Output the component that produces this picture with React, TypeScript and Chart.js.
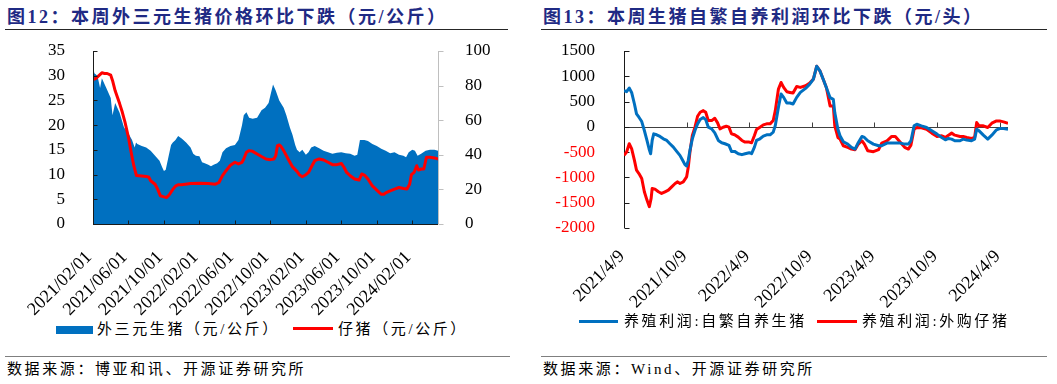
import React, { useEffect, useRef } from 'react';
import { Chart, registerables } from 'chart.js';

Chart.register(...registerables);

const SERIF = "'Liberation Serif', Tinos, 'Times New Roman', Times, 'DejaVu Serif', serif";
const MIXED = "'Liberation Serif', Tinos, 'Times New Roman', Times, 'Noto Sans CJK SC', serif";

// ---------- Figure 12 data (months since 2021/02/01) ----------
const leftTickLabels = ['2021/02/01', '2021/06/01', '2021/10/01', '2022/02/01', '2022/06/01', '2022/10/01', '2023/02/01', '2023/06/01', '2023/10/01', '2024/02/01'];

const hogMonths = [0, 0.15, 0.5, 0.8, 1, 1.5, 2, 2.2, 2.5, 3, 3.5, 4, 4.4, 4.7, 4.85, 5, 5.5, 6, 6.5, 7, 7.5, 7.8, 8, 8.2, 8.5, 8.8, 9, 9.3, 9.6, 10, 10.5, 11, 11.3, 11.6, 12, 12.3, 12.6, 13, 13.3, 13.6, 14, 14.3, 14.6, 15, 15.5, 16, 16.4, 16.8, 17, 17.3, 17.6, 18, 18.5, 19, 19.4, 19.8, 20, 20.3, 20.6, 21, 21.5, 21.8, 22.2, 22.5, 22.8, 23, 23.3, 23.6, 24, 24.3, 24.6, 25, 25.5, 26, 26.5, 27, 27.5, 28, 28.5, 29, 29.5, 29.8, 30.1, 30.6, 31, 31.5, 32, 32.5, 33, 33.5, 34, 34.5, 35, 35.3, 35.6, 36, 36.3, 36.6, 37, 37.5, 38, 38.5, 38.9];
const hogPrice = [32.2, 30.5, 30, 27.5, 29.5, 27.5, 25.5, 22, 24.5, 22.5, 19.5, 18.3, 17, 15.5, 16.5, 16.2, 15.8, 15.5, 14.8, 13.8, 12.8, 11.5, 10.7, 11, 13.5, 16, 16.5, 17, 17.8, 17.3, 16.5, 15.5, 14.2, 13.8, 13.7, 12.5, 12.3, 12, 11.7, 12, 12.3, 12.8, 14.5, 15.3, 15.8, 16, 17, 20, 22, 22.6, 21.5, 21.3, 21.5, 23, 23.5, 24.5, 26, 28.2, 27, 25, 23.5, 22, 19.5, 18, 16, 15, 14.5, 15, 14, 14.5, 15.5, 15.8, 15.3, 14.8, 14.5, 14.2, 14.4, 14.5, 14.3, 14.2, 13.8, 14, 17, 17, 16.8, 16.2, 15.8, 15.2, 14.8, 14.3, 14.5, 14, 13.8, 13.5, 14.5, 15, 14.8, 13.8, 14.2, 14.8, 15, 15, 14.8];

const pigletMonths = [0, 0.3, 0.6, 1, 1.3, 1.6, 2, 2.2, 2.5, 3, 3.3, 3.6, 4, 4.3, 4.6, 4.9, 5.5, 6, 6.3, 6.5, 7, 7.3, 7.6, 8, 8.3, 8.6, 9, 9.3, 9.6, 10, 11, 12, 13, 13.8, 14.2, 14.6, 15, 15.5, 16, 16.4, 16.8, 17, 17.3, 17.6, 18, 18.5, 19, 19.5, 20, 20.4, 20.6, 20.8, 21, 21.2, 21.5, 22, 22.5, 23, 23.3, 23.6, 24, 24.3, 24.6, 25, 25.5, 26, 26.5, 27, 27.5, 28, 28.3, 28.6, 29, 29.5, 30, 30.3, 30.6, 31, 31.5, 32, 32.5, 32.8, 33, 33.5, 34, 34.5, 35, 35.4, 35.7, 35.9, 36.2, 36.5, 36.7, 37, 37.3, 37.6, 38, 38.5, 38.9];
const pigletPrice = [83.5, 84, 85.5, 87.4, 87, 87, 86, 83, 77, 69.6, 64.7, 59, 50, 41.5, 33.7, 28, 27.7, 27.5, 27, 25, 23, 20, 16.3, 15.7, 15.3, 16.9, 20, 21.9, 22.7, 22.7, 23.4, 23.6, 23.4, 23, 24, 28, 30.8, 34, 35.7, 34.7, 35.6, 37.6, 41.5, 42.4, 42, 40.5, 39, 37.6, 37.2, 37.6, 39.5, 45.3, 45.7, 44.8, 42.4, 37.6, 33, 30.4, 28.3, 27.3, 28.5, 29.8, 32.8, 36.6, 37.6, 37, 35.7, 34.3, 34.3, 35, 32.8, 29.8, 27.9, 26, 25.4, 28.9, 28.3, 26, 22, 19.6, 17.2, 17.2, 18, 19.2, 20.2, 21.1, 20.5, 20.2, 23, 28.5, 29.8, 33.7, 31.2, 31.8, 31.8, 38.6, 38.6, 38.2, 37.6];

// ---------- Figure 13 data (months since 2021/4/9) ----------
const rightTickLabels = ['2021/4/9', '2021/10/9', '2022/4/9', '2022/10/9', '2023/4/9', '2023/10/9', '2024/4/9'];

const selfBredMonths = [0, 0.25, 0.5, 0.73, 1, 1.2, 1.43, 1.7, 1.95, 2.2, 2.4, 2.55, 2.7, 2.85, 3.13, 3.45, 3.77, 4.1, 4.4, 4.73, 5.05, 5.36, 5.62, 5.84, 6, 6.16, 6.32, 6.55, 6.8, 7.05, 7.3, 7.6, 7.83, 8.08, 8.4, 8.7, 9.04, 9.36, 9.68, 10.06, 10.3, 10.6, 10.95, 11.3, 11.6, 12, 12.23, 12.5, 12.7, 13.03, 13.35, 13.67, 14, 14.3, 14.5, 14.8, 15.05, 15.3, 15.6, 15.9, 16.2, 16.55, 16.9, 17.4, 17.8, 18.15, 18.47, 18.79, 19.1, 19.4, 19.75, 20.06, 20.2, 20.5, 20.7, 21.02, 21.44, 21.8, 22.14, 22.46, 22.8, 23.04, 23.36, 23.9, 24.4, 24.7, 25.2, 25.66, 26, 26.5, 26.9, 27.25, 27.5, 27.8, 28.06, 28.5, 29, 29.5, 30, 30.45, 30.8, 31.1, 31.4, 31.7, 32.2, 32.5, 32.85, 33.3, 33.6, 33.8, 34.03, 34.44, 34.86, 35.25, 35.7, 36, 36.37, 36.8];
const selfBredProfit = [714, 695, 767, 681, 452, 256, 190, 105, -72, -269, -432, -531, -269, -138, -157, -190, -236, -269, -334, -400, -485, -564, -662, -747, -773, -662, -465, -236, -72, 59, 144, 183, 144, -7, -39, -118, -269, -315, -334, -367, -485, -485, -531, -550, -531, -511, -531, -400, -269, -236, -183, -157, -157, -105, 26, 387, 649, 583, 472, 472, 452, 583, 681, 760, 845, 944, 1199, 1101, 937, 773, 577, 544, 282, -46, -177, -295, -341, -406, -439, -308, -190, -210, -275, -341, -374, -374, -321, -321, -321, -321, -341, -341, -275, 20, 52, 20, -13, -79, -144, -210, -255, -229, -242, -275, -275, -242, -262, -275, -242, -46, -79, -164, -242, -164, -59, -33, -33, -46];

const boughtMonths = [0, 0.25, 0.5, 0.73, 1, 1.2, 1.43, 1.7, 1.95, 2.2, 2.43, 2.6, 2.7, 2.97, 3.3, 3.6, 3.93, 4.25, 4.57, 4.9, 5.14, 5.36, 5.68, 6, 6.16, 6.32, 6.55, 6.8, 7.05, 7.3, 7.6, 7.83, 8.08, 8.4, 8.7, 8.97, 9.2, 9.5, 9.8, 10.06, 10.3, 10.6, 10.95, 11.3, 11.6, 12, 12.23, 12.5, 12.7, 13.03, 13.35, 13.67, 14, 14.3, 14.5, 14.8, 15.05, 15.3, 15.6, 15.9, 16.2, 16.55, 16.9, 17.4, 17.8, 18.15, 18.47, 18.79, 19.1, 19.4, 19.75, 20.06, 20.2, 20.5, 20.7, 21.02, 21.44, 21.8, 22.14, 22.46, 22.8, 23.04, 23.36, 23.9, 24.4, 24.7, 25.2, 25.66, 26, 26.5, 26.9, 27.25, 27.5, 27.8, 28.06, 28.5, 29, 29.5, 30, 30.45, 30.8, 31.1, 31.4, 31.7, 32.2, 32.5, 32.85, 33.3, 33.6, 33.8, 34.03, 34.44, 34.86, 35.25, 35.7, 36, 36.37, 36.8];
const boughtProfit = [-564, -498, -334, -432, -662, -858, -924, -1022, -1284, -1448, -1579, -1415, -1219, -1232, -1284, -1317, -1284, -1252, -1186, -1120, -1088, -1120, -1088, -990, -793, -498, -170, -7, 210, 288, 321, 288, 124, 124, 170, 79, -39, -7, 13, -7, -138, -157, -203, -269, -301, -301, -315, -170, -52, -7, 39, 59, 59, 124, 321, 747, 878, 780, 695, 681, 668, 799, 780, 813, 865, 944, 1199, 1101, 937, 773, 413, 413, 20, -210, -242, -374, -406, -439, -452, -341, -275, -341, -472, -491, -452, -321, -275, -190, -190, -308, -406, -439, -360, -46, -13, -20, -46, -124, -190, -177, -210, -164, -124, -164, -190, -190, -210, -229, -210, 85, 20, 20, -13, 72, 118, 118, 98, 72];

const BLUE = '#0070C0';
const RED = '#FF0000';

const pts = (xs: number[], ys: number[]) => xs.map((x, i) => ({ x, y: ys[i] }));

function seg(ctx: CanvasRenderingContext2D, x1: number, y1: number, x2: number, y2: number) {
  ctx.beginPath();
  ctx.moveTo(x1, y1);
  ctx.lineTo(x2, y2);
  ctx.stroke();
}
const px = (v: number) => Math.round(v) + 0.5;

const leftAxesPlugin = {
  id: 'leftAxes',
  afterDatasetsDraw(chart: any) {
    const { ctx, chartArea: a, scales } = chart;
    ctx.save();
    ctx.lineWidth = 1;
    ctx.strokeStyle = '#BFBFBF';
    const xr = px(a.right);
    seg(ctx, xr, a.top, xr, a.bottom);
    scales.y1.ticks.forEach((t: any) => {
      const y = px(scales.y1.getPixelForValue(t.value));
      seg(ctx, xr, y, xr + 5, y);
    });
    ctx.strokeStyle = '#1a1a1a';
    const xl = px(a.left);
    seg(ctx, xl, a.top, xl, a.bottom);
    scales.y.ticks.forEach((t: any) => {
      const y = px(scales.y.getPixelForValue(t.value));
      seg(ctx, xl, y, xl + 4, y);
    });
    const yb = px(a.bottom);
    seg(ctx, a.left, yb, a.right, yb);
    scales.x.ticks.forEach((t: any) => {
      const x = px(scales.x.getPixelForValue(t.value));
      seg(ctx, x, yb, x, yb - 4);
    });
    ctx.restore();
  },
};

const rightAxesPlugin = {
  id: 'rightAxes',
  beforeDatasetsDraw(chart: any) {
    const { ctx, chartArea: a, scales } = chart;
    ctx.save();
    ctx.lineWidth = 1;
    ctx.strokeStyle = '#404040';
    const y0 = px(scales.y.getPixelForValue(0));
    seg(ctx, a.left, y0, a.right, y0);
    scales.x.ticks.forEach((t: any) => {
      const x = px(scales.x.getPixelForValue(t.value));
      seg(ctx, x, y0, x, y0 - 5);
    });
    ctx.strokeStyle = '#1a1a1a';
    const xl = px(a.left);
    seg(ctx, xl, a.top, xl, a.bottom);
    scales.y.ticks.forEach((t: any) => {
      const y = px(scales.y.getPixelForValue(t.value));
      seg(ctx, xl, y, xl + 5, y);
    });
    ctx.restore();
  },
};

const tickFont = { family: SERIF, size: 17 };
const dateFont = { family: SERIF, size: 18 };

const fixY = (w: number) => (s: any) => {
  s.width = w;
  s.paddingTop = 0;
  s.paddingBottom = 0;
};
const fixX = (h: number) => (s: any) => {
  s.height = h;
  s.paddingLeft = 0;
  s.paddingRight = 0;
};

function useChart(ref: React.RefObject<HTMLCanvasElement>, makeConfig: () => any) {
  useEffect(() => {
    if (!ref.current) return;
    const chart = new Chart(ref.current, makeConfig());
    return () => chart.destroy();
  }, []);
}

function LeftChart() {
  const ref = useRef<HTMLCanvasElement>(null);
  useChart(ref, () => ({
    type: 'line',
    data: {
      datasets: [
        {
          label: '外三元生猪（元/公斤）',
          data: pts(hogMonths, hogPrice),
          yAxisID: 'y',
          borderWidth: 0,
          borderColor: BLUE,
          backgroundColor: BLUE,
          fill: 'origin',
          pointRadius: 0,
          order: 2,
        },
        {
          label: '仔猪（元/公斤）',
          data: pts(pigletMonths, pigletPrice),
          yAxisID: 'y1',
          borderWidth: 3,
          borderColor: RED,
          backgroundColor: RED,
          fill: false,
          pointRadius: 0,
          borderJoinStyle: 'round',
          order: 1,
        },
      ],
    },
    options: {
      responsive: false,
      animation: false,
      events: [],
      layout: { padding: { top: 11, left: 0, right: 0, bottom: 0 } },
      plugins: { legend: { display: false }, tooltip: { enabled: false } },
      scales: {
        x: {
          type: 'linear',
          min: 0,
          max: 38.9,
          grid: { display: false },
          border: { display: false },
          afterBuildTicks: (s: any) => {
            s.ticks = leftTickLabels.map((_, i) => ({ value: i * 4 }));
          },
          afterFit: fixX(96),
          ticks: {
            autoSkip: false,
            minRotation: 45,
            maxRotation: 45,
            padding: 15,
            labelOffset: -4,
            font: dateFont,
            color: '#000',
            callback: (v: number) => leftTickLabels[Math.round(v / 4)],
          },
        },
        y: {
          position: 'left',
          min: 0,
          max: 35,
          grid: { display: false },
          border: { display: false },
          afterFit: fixY(93),
          ticks: { stepSize: 5, autoSkip: false, padding: 20, font: tickFont, color: '#000', callback: (v: number) => String(v) },
        },
        y1: {
          position: 'right',
          min: 0,
          max: 100,
          grid: { display: false },
          border: { display: false },
          afterFit: fixY(92),
          ticks: { stepSize: 20, autoSkip: false, padding: 19, font: tickFont, color: '#000', callback: (v: number) => String(v) },
        },
      },
    },
    plugins: [leftAxesPlugin],
  }));
  return <canvas ref={ref} width={530} height={280} style={{ position: 'absolute', left: 0, top: 40, display: 'block' }} />;
}

function RightChart() {
  const ref = useRef<HTMLCanvasElement>(null);
  useChart(ref, () => ({
    type: 'line',
    data: {
      datasets: [
        {
          label: '养殖利润:自繁自养生猪',
          data: pts(selfBredMonths, selfBredProfit),
          borderWidth: 3,
          borderColor: BLUE,
          backgroundColor: BLUE,
          pointRadius: 0,
          borderJoinStyle: 'round',
          fill: false,
        },
        {
          label: '养殖利润:外购仔猪',
          data: pts(boughtMonths, boughtProfit),
          borderWidth: 3,
          borderColor: RED,
          backgroundColor: RED,
          pointRadius: 0,
          borderJoinStyle: 'round',
          fill: false,
        },
      ],
    },
    options: {
      responsive: false,
      animation: false,
      events: [],
      layout: { padding: { top: 11, left: 0, right: 49, bottom: 0 } },
      plugins: { legend: { display: false }, tooltip: { enabled: false } },
      scales: {
        x: {
          type: 'linear',
          min: 0,
          max: 36.8,
          grid: { display: false },
          border: { display: false },
          afterBuildTicks: (s: any) => {
            s.ticks = rightTickLabels.map((_, i) => ({ value: i * 6 }));
          },
          afterFit: fixX(92),
          ticks: {
            autoSkip: false,
            minRotation: 45,
            maxRotation: 45,
            padding: 10,
            labelOffset: -2,
            font: dateFont,
            color: '#000',
            callback: (v: number) => rightTickLabels[Math.round(v / 6)],
          },
        },
        y: {
          position: 'left',
          min: -2000,
          max: 1500,
          grid: { display: false },
          border: { display: false },
          afterFit: fixY(94),
          ticks: {
            stepSize: 500,
            autoSkip: false,
            padding: 21,
            font: tickFont,
            color: (c: any) => (c.tick && c.tick.value < 0 ? RED : '#000'),
            callback: (v: number) => String(v),
          },
        },
      },
    },
    plugins: [rightAxesPlugin],
  }));
  return <canvas ref={ref} width={527} height={280} style={{ position: 'absolute', left: 530, top: 40, display: 'block' }} />;
}

const abs = (s: React.CSSProperties): React.CSSProperties => ({ position: 'absolute', whiteSpace: 'nowrap', ...s });

const titleStyle = (left: number): React.CSSProperties =>
  abs({ left, top: 6, fontSize: 18, lineHeight: '22px', fontWeight: 'bold', color: '#1F2A84', letterSpacing: '2.5px' });
const bodyText = (left: number, top: number): React.CSSProperties =>
  abs({ left, top, fontSize: 15, lineHeight: '18px', color: '#000', letterSpacing: '2.6px' });

export default function App() {
  return (
    <div style={{ position: 'absolute', left: 0, top: 0, width: 1057, height: 384, background: '#fff', overflow: 'hidden', fontFamily: MIXED }}>
      <div style={titleStyle(7)}>图12：本周外三元生猪价格环比下跌（元/公斤）</div>
      <div style={abs({ left: 5, top: 29, width: 503, height: 1, background: '#262626' })} />
      <LeftChart />
      <div style={abs({ left: 56, top: 326, width: 37, height: 8, background: BLUE })} />
      <div style={bodyText(97, 320)}>外三元生猪（元/公斤）</div>
      <div style={abs({ left: 293, top: 327, width: 40, height: 3, background: RED })} />
      <div style={bodyText(338, 320)}>仔猪（元/公斤）</div>
      <div style={abs({ left: 5, top: 356, width: 505, height: 1, background: '#7F7F7F' })} />
      <div style={bodyText(7, 360)}>数据来源：博亚和讯、开源证券研究所</div>

      <div style={titleStyle(543)}>图13：本周生猪自繁自养利润环比下跌（元/头）</div>
      <div style={abs({ left: 541, top: 29, width: 506, height: 1, background: '#262626' })} />
      <RightChart />
      <div style={abs({ left: 579, top: 320, width: 39, height: 3, background: BLUE })} />
      <div style={bodyText(624, 312)}>养殖利润:自繁自养生猪</div>
      <div style={abs({ left: 817, top: 320, width: 40, height: 3, background: RED })} />
      <div style={bodyText(862, 312)}>养殖利润:外购仔猪</div>
      <div style={abs({ left: 541, top: 356, width: 506, height: 1, background: '#7F7F7F' })} />
      <div style={bodyText(543, 360)}>数据来源：Wind、开源证券研究所</div>
    </div>
  );
}
